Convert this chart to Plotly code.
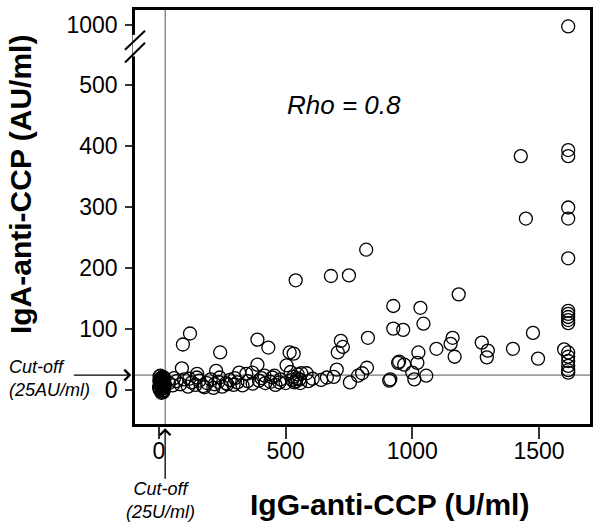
import plotly.graph_objects as go

# IgG-anti-CCP (U/ml) and IgA-anti-CCP (AU/ml)
igg_top = [1615, 1615, 1615, 1615, 1615, 1615, 1428, 1448, 818, 750, 679, 540]
iga_top = [990, 393, 383, 299, 281, 216, 383, 281, 230, 188, 187, 180]

igg_mid = [1615, 1615, 1615, 1615, 1615, 1599, 1615, 1615, 1615, 1615, 1615, 1615,
           1476, 1496, 1397, 1274, 1298, 1294, 1183, 1159, 1151, 1167, 1095,
           1032, 1044, 925, 925, 964, 1024, 948, 968, 1020, 1000, 1008, 1055, 913,
           825, 821, 718, 726, 706, 516, 532, 432, 389, 242, 95, 123, 944]
iga_mid = [130, 125, 120, 115, 110, 67, 62, 55, 48, 40, 33, 29,
           94, 52, 68, 78, 65, 54, 157, 86, 76, 55, 68,
           135, 109, 138, 101, 99, 62, 47, 42, 45, 29, 18, 24, 18,
           86, 37, 81, 71, 62, 62, 60, 70, 83, 62, 75, 93, 45]

igg_low = [91, 226, 389, 151, 317, 345, 369, 417, 448, 504, 702, 802, 786, 754,
           456, 476, 583, 607, 663, 909,
           520, 530, 540, 548, 555, 562, 545, 535, 525, 558,
           40, 55, 70, 85, 100, 115, 130, 145, 160, 175, 190, 205, 220, 235, 250,
           265, 280, 295, 310, 330, 350, 370, 395, 405, 420, 440, 460, 480, 500, 590,
           640, 690, 60, 120, 180, 240, 300, 215, 150, 270]
iga_low = [36, 32, 42, 27, 29, 27, 29, 24, 21, 41, 34, 28, 24, 13,
           24, 13, 28, 19, 21, 16,
           30, 22, 15, 26, 18, 28, 20, 13, 17, 12,
           12, 8, 15, 10, 18, 6, 13, 9, 16, 7, 12, 18, 10, 14, 6,
           12, 17, 9, 13, 8, 15, 11, 16, 20, 12, 14, 9, 18, 12, 15,
           17, 22, 20, 19, 5, 21, 20, 4, 21, 10]

igg_blob = [3, 5, 7, 9, 11, 13, 15, 17, 19, 21, 4, 8, 12, 16, 20, 6, 10, 14, 18, 22, 2, 24,
            1, 5, 9, 13, 17, 21, 3, 7, 11, 15, 19, 23, 6, 12, 18]
iga_blob = [2, 8, 14, 20, 4, 10, 16, 22, 0, 6, 12, 18, -2, 3, 13, 24, -4, 7, 11, 19, 16, 9,
            5, 1, 17, 21, -3, 14, 23, 11, 6, 15, 0, 8, 19, 3, 10]

cutoff_igg = 25
cutoff_iga = 25

y_ticks = [0, 100, 200, 300, 400, 500, 1000]


def squash(v):
    # broken axis: everything above 500 is squeezed
    return v if v <= 500 else 500 + (v - 500) * 0.194


igg = igg_top + igg_mid + igg_low + igg_blob
iga = iga_top + iga_mid + iga_low + iga_blob

FONT = "Liberation Sans, Arial, Helvetica, sans-serif"

fig = go.Figure()
fig.add_trace(go.Scatter(
    x=igg, y=[squash(v) for v in iga], mode="markers",
    marker=dict(symbol="circle-open", size=13, color="black",
                line=dict(width=1.3, color="black")),
    showlegend=False, hoverinfo="skip"))

# cut-off lines
fig.add_shape(type="line", xref="paper", x0=0, x1=1, yref="y", y0=cutoff_iga, y1=cutoff_iga,
              line=dict(color="#555555", width=1), layer="below")
fig.add_shape(type="line", xref="x", x0=cutoff_igg, x1=cutoff_igg, yref="paper", y0=0, y1=1,
              line=dict(color="#555555", width=1), layer="below")

# axis break marks
fig.add_shape(type="line", xref="paper", yref="paper", x0=0, x1=0, y0=0.888, y1=0.94,
              line=dict(color="white", width=5), layer="above")
fig.add_shape(type="line", xref="paper", yref="paper", x0=-0.022, x1=0.022, y0=0.904, y1=0.950,
              line=dict(color="black", width=2), layer="above")
fig.add_shape(type="line", xref="paper", yref="paper", x0=-0.022, x1=0.022, y0=0.873, y1=0.921,
              line=dict(color="black", width=2), layer="above")

fig.update_layout(
    width=600, height=529,
    margin=dict(l=135, r=9, t=7, b=105),
    plot_bgcolor="white", paper_bgcolor="white",
    font=dict(family=FONT, color="black"),
    xaxis=dict(range=[-94, 1701], tickvals=[0, 500, 1000, 1500],
               showgrid=False, zeroline=False,
               showline=True, linewidth=2.5, linecolor="black", mirror=True,
               ticks="outside", ticklen=12, tickwidth=1.5, tickcolor="#333333",
               tickfont=dict(size=23), ticklabelstandoff=-7),
    yaxis=dict(range=[-55, 622], tickvals=[squash(v) for v in y_ticks],
               ticktext=[str(v) for v in y_ticks],
               showgrid=False, zeroline=False,
               showline=True, linewidth=2.5, linecolor="black", mirror=True,
               ticks="outside", ticklen=7, tickwidth=1.5, tickcolor="#333333",
               tickfont=dict(size=23), ticklabelstandoff=3),
)

fig.add_annotation(text="<b>IgA-anti-CCP (AU/ml)</b>", xref="paper", yref="paper",
                   x=-0.252, y=0.578, xanchor="center", yanchor="middle",
                   textangle=-90, showarrow=False, font=dict(size=30))
fig.add_annotation(text="<b>IgG-anti-CCP (U/ml)</b>", xref="paper", yref="paper",
                   x=0.559, y=-0.194, xanchor="center", yanchor="middle",
                   showarrow=False, font=dict(size=30))
fig.add_annotation(text="<i>Rho = 0.8</i>", xref="x", yref="y", x=732, y=466,
                   xanchor="center", yanchor="middle",
                   showarrow=False, font=dict(size=26))

# cut-off labels and arrows
fig.add_annotation(text="<i>Cut-off<br>(25AU/ml)</i>", xref="paper", yref="paper",
                   x=-0.281, y=0.109, xanchor="left", yanchor="middle", align="left",
                   showarrow=False, font=dict(size=18))
fig.add_annotation(text="", xref="paper", yref="y", x=-0.008, y=cutoff_iga,
                   showarrow=True, ax=-59, ay=0, arrowhead=4, arrowsize=1.6,
                   arrowwidth=1.3, arrowcolor="black")
fig.add_annotation(text="<i>Cut-off<br>(25U/ml)</i>", xref="paper", yref="paper",
                   x=0.055, y=-0.185, xanchor="center", yanchor="middle", align="center",
                   showarrow=False, font=dict(size=18))
fig.add_annotation(text="", xref="x", yref="paper", x=cutoff_igg, y=-0.01,
                   showarrow=True, ax=0, ay=52, arrowhead=4, arrowsize=1.6,
                   arrowwidth=1.3, arrowcolor="black")

# drop the default page margin so the figure sits at the window corner
fig.write_html("out.html", config={"displayModeBar": False},
               post_script="document.body.style.margin='0';")
